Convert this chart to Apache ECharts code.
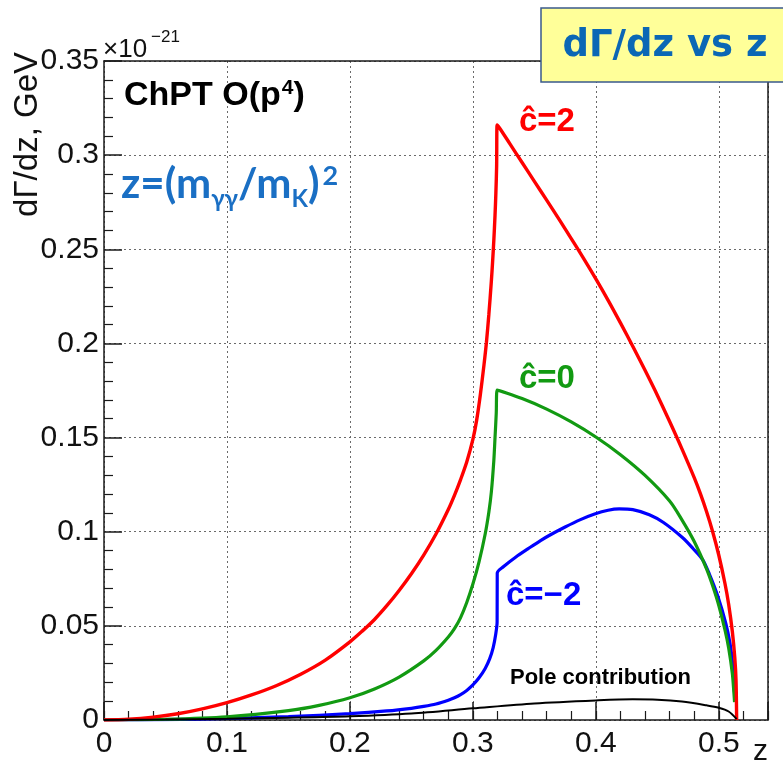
<!DOCTYPE html>
<html>
<head>
<meta charset="utf-8">
<script src="https://cdn.jsdelivr.net/npm/echarts@6/dist/echarts.min.js"></script>
<style>
html,body{margin:0;padding:0;background:#fff;}
#chart{width:783px;height:766px;}
</style>
</head>
<body>
<div id="chart"></div>
<script>
// ---- data (z, dGamma/dz in units of 1e-21 GeV) ----
var redZ = [0,0.02,0.04,0.06,0.08,0.1,0.12,0.14,0.16,0.18,0.2,0.21,0.22,0.23,0.24,0.25,0.26,0.27,0.28,0.285,0.29,0.295,0.3,0.303,0.306,0.309,0.311,0.313,0.315,0.316,0.317,0.318,0.3187,0.3193,0.3197,
            0.3218,0.33,0.34,0.35,0.36,0.37,0.38,0.39,0.40,0.41,0.42,0.43,0.44,0.45,0.46,0.47,0.48,0.485,0.49,0.495,0.5,0.505,0.508,0.511,0.513,0.514,0.5145];
var redV = [0,0.0004,0.0015,0.0033,0.0059,0.0092,0.0133,0.0182,0.0243,0.0318,0.0415,0.0472,0.0534,0.0607,0.0688,0.0777,0.0876,0.0988,0.1118,0.1193,0.1277,0.137,0.149,0.159,0.1725,0.1885,0.2005,0.2155,0.233,0.243,0.2545,0.268,0.28,0.294,0.316,
            0.3143,0.3061,0.2961,0.2861,0.2761,0.266,0.2557,0.2452,0.2343,0.2229,0.2109,0.1985,0.1857,0.1725,0.1585,0.144,0.1287,0.1202,0.1107,0.1,0.0875,0.0725,0.0615,0.047,0.033,0.021,0];

var greenZ = [0,0.05,0.1,0.15,0.175,0.2,0.22,0.24,0.26,0.27,0.28,0.285,0.29,0.295,0.3,0.305,0.31,0.313,0.315,0.317,0.318,0.319,0.3197,
              0.34,0.36,0.38,0.40,0.42,0.44,0.46,0.47,0.48,0.49,0.495,0.5,0.505,0.508,0.511,0.5122,0.5128];
var greenV = [0,0.0004,0.0017,0.005,0.0078,0.0118,0.0165,0.0228,0.0314,0.037,0.0441,0.0485,0.0544,0.0624,0.0722,0.084,0.0988,0.1105,0.121,0.1375,0.15,0.163,0.1752,
              0.1707,0.1651,0.1583,0.1503,0.1409,0.1299,0.1163,0.1063,0.0948,0.0803,0.0713,0.0608,0.0478,0.0382,0.0247,0.015,0.0095];

var blueZ = [0,0.05,0.1,0.15,0.2,0.23,0.25,0.26,0.27,0.28,0.285,0.29,0.295,0.3,0.305,0.31,0.3137,0.3165,0.3185,0.3197,0.3198,
             0.325,0.335,0.345,0.355,0.362,0.375,0.387,0.399,0.41,0.419,0.43,0.4435,0.455,0.4706,0.479,0.4868,0.4923,0.499,0.5058,0.509,0.5112,0.5132];
var blueV = [0,0.0002,0.0008,0.0018,0.0034,0.0048,0.0062,0.0072,0.0085,0.0105,0.0118,0.0135,0.0157,0.0186,0.0224,0.0274,0.0326,0.0385,0.0453,0.052,0.078,
             0.0815,0.0866,0.091,0.0953,0.098,0.1025,0.1063,0.1094,0.1114,0.1121,0.1117,0.109,0.1049,0.0968,0.0911,0.0852,0.0775,0.0661,0.0511,0.0412,0.0302,0.01];

var poleZ = [0,0.05,0.1,0.15,0.2,0.25,0.3,0.35,0.4,0.43,0.45,0.47,0.49,0.5,0.508,0.5145];
var poleV = [0,0.0002,0.0006,0.0012,0.002,0.0035,0.0062,0.0088,0.0104,0.011,0.0108,0.0098,0.0078,0.0065,0.0045,0.0005];

var xTicks = [0,0.1,0.2,0.3,0.4,0.5];
var yTicks = [0,0.05,0.1,0.15,0.2,0.25,0.3,0.35];

function pairs(zs, vs){ return zs.map(function(z,i){ return [z, vs[i]]; }); }
function fmt(v){ return String(Math.round(v*100)/100); }
function isTick(list, v){ return list.some(function(t){ return Math.abs(t-v) < 1e-6; }); }

var FONT = 'Liberation Sans';
var AX = '#1a1a1a';
var BLUE_TXT = '#1a6fc4';
var SMOOTH = 0.3;
var chart = echarts.init(document.getElementById('chart'), null, {renderer:'canvas'});

var gridLine = {show:true, lineStyle:{type:[2,3], color:'#6a6a6a', width:1}};

var option = {
  animation:false,
  backgroundColor:'#ffffff',
  textStyle:{fontFamily:FONT},
  grid:{left:104, top:61, right:15, bottom:46, containLabel:false},
  xAxis:[
    {type:'value', min:0, max:0.54, interval:0.1, position:'bottom',
     axisLine:{show:true, onZero:false, lineStyle:{color:AX, width:1.5}},
     axisTick:{show:true, inside:true, length:18, lineStyle:{color:AX, width:1.5}},
     minorTick:{show:false},
     axisLabel:{show:true, margin:9, fontSize:30, color:'#111', fontFamily:FONT,
       formatter:function(v){ return isTick(xTicks, v) ? fmt(v) : ''; }},
     splitLine:gridLine},
    {type:'value', min:0, max:0.54, interval:0.02, position:'bottom',
     axisLine:{show:false}, axisLabel:{show:false}, splitLine:{show:false},
     axisTick:{show:true, inside:true, length:9, lineStyle:{color:AX, width:1.2}}},
    {type:'value', min:0, max:0.54, position:'top',
     axisLine:{show:true, onZero:false, lineStyle:{color:AX, width:1.5}},
     axisTick:{show:false}, axisLabel:{show:false}, splitLine:{show:false}}
  ],
  yAxis:[
    {type:'value', min:0, max:0.35, interval:0.05, position:'left',
     axisLine:{show:true, onZero:false, lineStyle:{color:AX, width:1.5}},
     axisTick:{show:true, inside:true, length:18, lineStyle:{color:AX, width:1.5}},
     minorTick:{show:true, splitNumber:5, length:9, lineStyle:{color:AX, width:1.2}},
     axisLabel:{show:true, margin:5, fontSize:30, color:'#111', fontFamily:FONT,
       formatter:function(v){ return isTick(yTicks, v) ? fmt(v) : ''; }},
     splitLine:gridLine},
    {type:'value', min:0, max:0.35, position:'right',
     axisLine:{show:true, onZero:false, lineStyle:{color:AX, width:1.5}},
     axisTick:{show:false}, axisLabel:{show:false}, splitLine:{show:false}}
  ],
  series:[
    {name:'c=-2', type:'line', xAxisIndex:0, yAxisIndex:0, showSymbol:false, smooth:SMOOTH, data:pairs(blueZ, blueV),
     lineStyle:{color:'#0000ff', width:3.2}, itemStyle:{color:'#0000ff'}, z:3},
    {name:'c=0', type:'line', xAxisIndex:0, yAxisIndex:0, showSymbol:false, smooth:SMOOTH, data:pairs(greenZ, greenV),
     lineStyle:{color:'#129a12', width:3.2}, itemStyle:{color:'#129a12'}, z:4},
    {name:'c=2', type:'line', xAxisIndex:0, yAxisIndex:0, showSymbol:false, smooth:SMOOTH, data:pairs(redZ, redV),
     lineStyle:{color:'#ff0000', width:3.4}, itemStyle:{color:'#ff0000'}, z:5},
    {name:'pole', type:'line', xAxisIndex:0, yAxisIndex:0, showSymbol:false, smooth:SMOOTH, data:pairs(poleZ, poleV),
     lineStyle:{color:'#000000', width:2}, itemStyle:{color:'#000'}, z:6}
  ],
  graphic:[
    {type:'text', x:103, y:50, style:{text:'×10', fontFamily:FONT, fontSize:26, fill:'#111', align:'left', verticalAlign:'middle'}},
    {type:'text', x:151, y:37, style:{text:'−21', fontFamily:FONT, fontSize:17, fill:'#111', align:'left', verticalAlign:'middle'}},
    {type:'text', x:28, y:52, rotation:Math.PI/2,
     style:{text:'dΓ/dz, GeV', fontFamily:FONT, fontSize:33, fill:'#111', align:'right', verticalAlign:'middle'}},
    {type:'text', x:768, y:752, style:{text:'z', fontFamily:FONT, fontSize:30, fill:'#111', align:'right', verticalAlign:'middle'}},
    {type:'text', x:124, y:96, z:50,
     style:{text:'{a|ChPT O(p}{s|4}{a|)}', align:'left', verticalAlign:'middle',
       rich:{a:{fontFamily:FONT, fontWeight:'bold', fontSize:34, lineHeight:38, fill:'#000'},
             s:{fontFamily:FONT, fontWeight:'bold', fontSize:21, lineHeight:21, padding:[1,0,0,1], verticalAlign:'top', fill:'#000'}}}},
    {type:'text', x:121, y:184, z:50,
     style:{text:'{a|z=(m}{b|γγ}{a|/m}{b|K}{a|)}{p|2}', align:'left', verticalAlign:'middle',
       rich:{a:{fontFamily:'Lato', fontWeight:'bold', fontSize:42, lineHeight:46, fill:BLUE_TXT},
             b:{fontFamily:'Lato', fontWeight:'bold', fontSize:24, lineHeight:24, padding:[26,0,0,0], verticalAlign:'top', fill:BLUE_TXT},
             p:{fontFamily:'Lato', fontWeight:'bold', fontSize:27, lineHeight:27, padding:[2,0,0,3], verticalAlign:'top', fill:BLUE_TXT}}}},
    {type:'text', x:519, y:122, z:50, style:{text:'ĉ=2', fontFamily:FONT, fontWeight:'bold', fontSize:33, fill:'#ff0000', align:'left', verticalAlign:'middle'}},
    {type:'text', x:519, y:379, z:50, style:{text:'ĉ=0', fontFamily:FONT, fontWeight:'bold', fontSize:33, fill:'#129a12', align:'left', verticalAlign:'middle'}},
    {type:'text', x:506, y:596, z:50, style:{text:'ĉ=−2', fontFamily:FONT, fontWeight:'bold', fontSize:33, fill:'#0000ff', align:'left', verticalAlign:'middle'}},
    {type:'text', x:510, y:678, z:50, style:{text:'Pole contribution', fontFamily:FONT, fontWeight:'bold', fontSize:22, fill:'#000', align:'left', verticalAlign:'middle'}},
    {type:'rect', z:100, shape:{x:541, y:8, width:260, height:74}, style:{fill:'#ffff99', stroke:'#3a5a8c', lineWidth:1.5}},
    {type:'text', z:101, x:665, y:46, style:{text:'dΓ/dz vs z', fontFamily:'DejaVu Sans', fontWeight:'bold', fontSize:37, fill:'#0b67b5', align:'center', verticalAlign:'middle'}}
  ]
};
chart.setOption(option);
</script>
</body>
</html>
